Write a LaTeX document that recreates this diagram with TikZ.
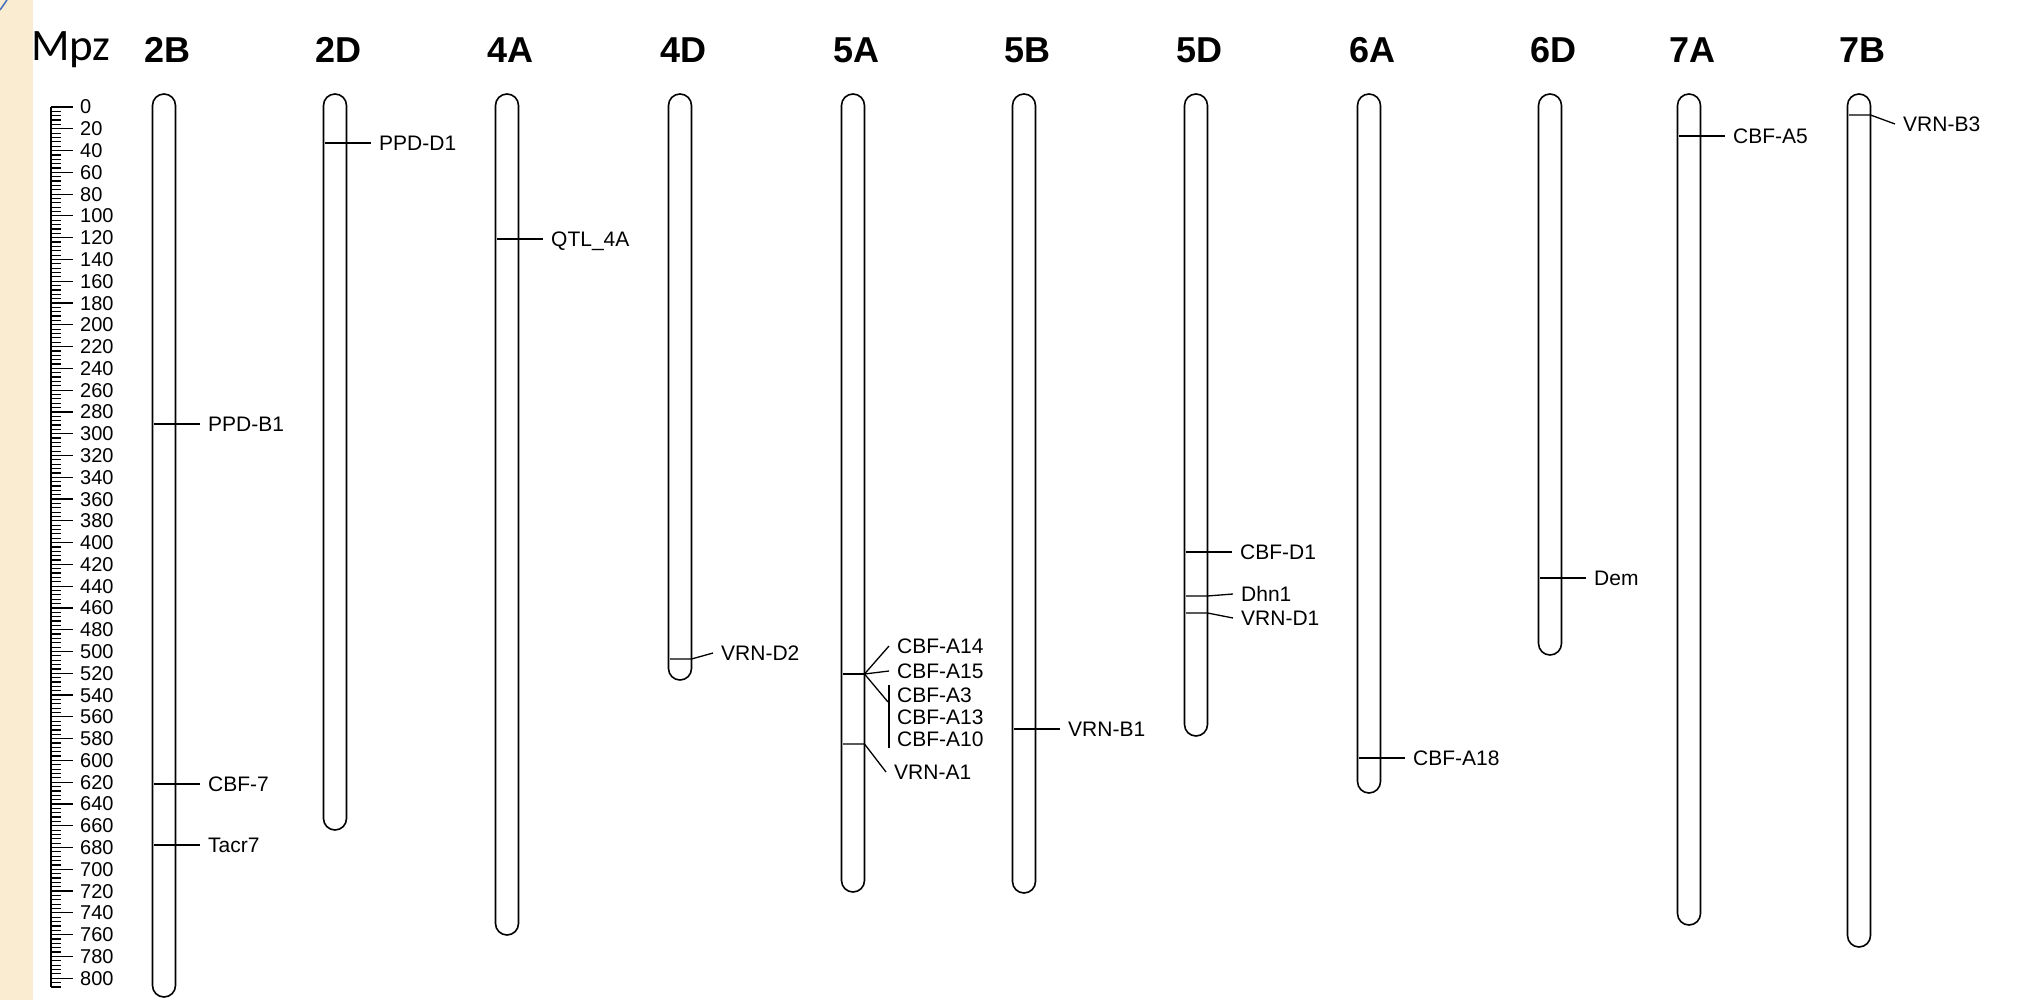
\documentclass[tikz,border=0pt]{standalone}
\usepackage{fontspec}
\setmainfont{Liberation Sans}
\newfontfamily\calfont{Carlito}
\usetikzlibrary{positioning}
\definecolor{parch}{RGB}{250,236,208}
\definecolor{edgeblue}{RGB}{70,110,190}

\begin{document}
\begin{tikzpicture}[x=1pt,y=-1pt,
  chrom/.style={draw,line width=1.6pt,rounded corners=11.5pt},
  mk/.style={line width=1.3pt},
  lbl/.style={anchor=west,inner xsep=8pt,inner ysep=0pt,text height=15pt,text depth=0pt,font=\fontsize{21}{21}\selectfont},
  hdr/.style={font=\fontsize{36}{36}\selectfont\bfseries},
  tk/.style={line width=1.2pt},
  tklbl/.style={anchor=west,inner sep=0pt,text height=14pt,text depth=0pt,font=\fontsize{20}{20}\selectfont}
]
\useasboundingbox (0,0) rectangle (2017,1000);
\fill[parch] (0,0) rectangle (33,1000);
\draw[edgeblue,line width=1.5pt] (0,10) -- (7,0);

% scale bar
\node[font=\calfont\fontsize{45}{45}\selectfont,anchor=base west,inner sep=0pt] (mpz) at (31,61) {Mpz};
\begin{scope}[yshift=-107pt,y=-1.089pt]
  \draw[tk] (51,0) -- (51,808);
  \foreach \m in {0,4,...,808} \draw[tk] (51,\m) -- ++(10,0);
  \foreach \m in {0,20,...,800} {
    \draw[tk] (51,\m) -- ++(22,0);
    \node[tklbl] (t\m) at (80,\m) {\m};
  }
\end{scope}

% chromosomes
\foreach \nm/\x/\b in {2B/164/997,2D/335/830,4A/507/935,4D/680/680,5A/853/892,5B/1024/893,5D/1196/736,6A/1369/793,6D/1550/655,7A/1689/925,7B/1859/947} {
  \node[hdr] (h\nm) at (\x+3.5,50) {\nm};
  \draw[chrom] (\x-11.5,94) rectangle (\x+11.5,\b);
}

% straight markers
\foreach \x/\y/\nm/\txt in {164/424/ppdb1/PPD-B1,164/784/cbf7/CBF-7,164/845/tacr7/Tacr7,335/143/ppdd1/PPD-D1,507/239/qtl4a/QTL\_4A,1024/729/vrnb1/VRN-B1,1196/552/cbfd1/CBF-D1,1369/758/cbfa18/CBF-A18,1550/578/dem/Dem,1689/136/cbfa5/CBF-A5} {
  \node[lbl] (\nm) at (\x+36,\y) {\txt};
  \draw[mk] (\x-10,\y) -- (\nm.west);
}

% bent markers
\node[lbl] (vrnd2) at (713,653) {VRN-D2};
\draw[mk] (670,659) -- (691.5,659) -- (vrnd2.west);

\node[lbl] (dhn1) at (1233,594) {Dhn1};
\node[lbl] (vrnd1) at (1233,618) {VRN-D1};
\draw[mk] (1186,596) -- (1207.5,596) -- (dhn1.west);
\draw[mk] (1186,613) -- (1207.5,613) -- (vrnd1.west);

\node[lbl] (vrnb3) at (1895,124) {VRN-B3};
\draw[mk] (1849,115) -- (1870.5,115) -- (vrnb3.west);

% 5A cluster
\coordinate (k5a) at (864.5,674);
\node[lbl] (cbfa14) at (889,646) {CBF-A14};
\node[lbl] (cbfa15) at (889,671) {CBF-A15};
\node[lbl] (cbfa3) at (889,695) {CBF-A3};
\node[lbl] (cbfa13) at (889,717) {CBF-A13};
\node[lbl] (cbfa10) at (889,739) {CBF-A10};
\coordinate (brtop) at (889,685);
\coordinate (brbot) at (889,748);
\coordinate (brjoin) at (888,702);
\draw[mk,line width=2.4pt] (843,674) -- (k5a);
\draw[mk] (k5a) -- (cbfa14.west);
\draw[mk] (k5a) -- (cbfa15.west);
\draw[mk] (k5a) -- (brjoin);
\draw[mk] (brtop) -- (brbot);
\node[lbl] (vrna1) at (886,772) {VRN-A1};
\draw[mk] (843,744) -- (864.5,744) -- (vrna1.west);
\end{tikzpicture}
\end{document}
